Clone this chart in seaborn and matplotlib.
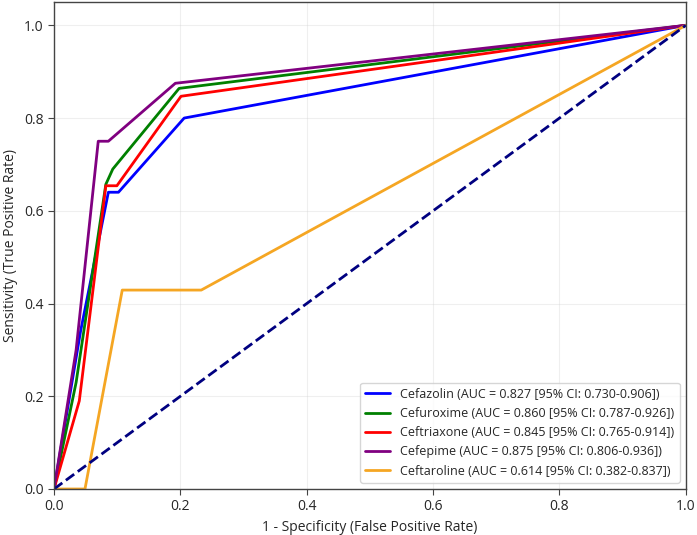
import pandas as pd
import numpy as np
import seaborn as sns
import matplotlib.pyplot as plt

# ROC points
labels = {
    'Cefazolin': 'Cefazolin (AUC = 0.827 [95% CI: 0.730-0.906])',
    'Cefuroxime': 'Cefuroxime (AUC = 0.860 [95% CI: 0.787-0.926])',
    'Ceftriaxone': 'Ceftriaxone (AUC = 0.845 [95% CI: 0.765-0.914])',
    'Cefepime': 'Cefepime (AUC = 0.875 [95% CI: 0.806-0.936])',
    'Ceftaroline': 'Ceftaroline (AUC = 0.614 [95% CI: 0.382-0.837])',
}
cefazolin_fpr = [0.0, 0.042, 0.086, 0.102, 0.206, 1.0]
cefazolin_tpr = [0.0, 0.34, 0.64, 0.64, 0.80, 1.0]
cefuroxime_fpr = [0.0, 0.035, 0.082, 0.093, 0.198, 1.0]
cefuroxime_tpr = [0.0, 0.23, 0.657, 0.69, 0.864, 1.0]
ceftriaxone_fpr = [0.0, 0.040, 0.082, 0.0995, 0.201, 1.0]
ceftriaxone_tpr = [0.0, 0.19, 0.654, 0.654, 0.847, 1.0]
cefepime_fpr = [0.0, 0.035, 0.070, 0.086, 0.192, 1.0]
cefepime_tpr = [0.0, 0.30, 0.75, 0.75, 0.875, 1.0]
ceftaroline_fpr = [0.0, 0.049, 0.108, 0.233, 1.0]
ceftaroline_tpr = [0.0, 0.0, 0.429, 0.429, 1.0]

colors = {'Cefazolin': 'blue', 'Cefuroxime': 'green', 'Ceftriaxone': 'red',
          'Cefepime': 'purple', 'Ceftaroline': '#f5a623'}

curves = {
    'Cefazolin': (cefazolin_fpr, cefazolin_tpr),
    'Cefuroxime': (cefuroxime_fpr, cefuroxime_tpr),
    'Ceftriaxone': (ceftriaxone_fpr, ceftriaxone_tpr),
    'Cefepime': (cefepime_fpr, cefepime_tpr),
    'Ceftaroline': (ceftaroline_fpr, ceftaroline_tpr),
}
rows = []
for name, (fpr, tpr) in curves.items():
    for f, t in zip(fpr, tpr):
        rows.append({'fpr': f, 'tpr': t, 'drug': labels[name]})
df = pd.DataFrame(rows)
palette = {labels[k]: v for k, v in colors.items()}

sns.set_style('whitegrid')
plt.rcParams['font.family'] = ['Open Sans', 'DejaVu Sans']

fig, ax = plt.subplots(figsize=(6.97, 5.35), dpi=100)
fig.subplots_adjust(left=0.0775, right=0.984, top=0.996, bottom=0.086)
sns.lineplot(data=df, x='fpr', y='tpr', hue='drug', palette=palette,
             estimator=None, sort=False, linewidth=2, ax=ax)
ax.plot([0, 1], [0, 1], color='navy', linestyle='--', linewidth=2)

ax.set_xlim(0, 1)
ax.set_ylim(0, 1.05)
ax.set_xlabel('1 - Specificity (False Positive Rate)', fontsize=10)
ax.set_ylabel('Sensitivity (True Positive Rate)', fontsize=10)
ax.grid(True, alpha=0.3)
for s in ax.spines.values():
    s.set_color('#444444')
    s.set_linewidth(1.0)
ax.tick_params(axis='both', which='both', length=4, color='#444444', direction='out',
               bottom=True, left=True, labelsize=10)
ax.legend(loc='lower right', title=None, fontsize=9)

plt.savefig('out.png', dpi=100)
